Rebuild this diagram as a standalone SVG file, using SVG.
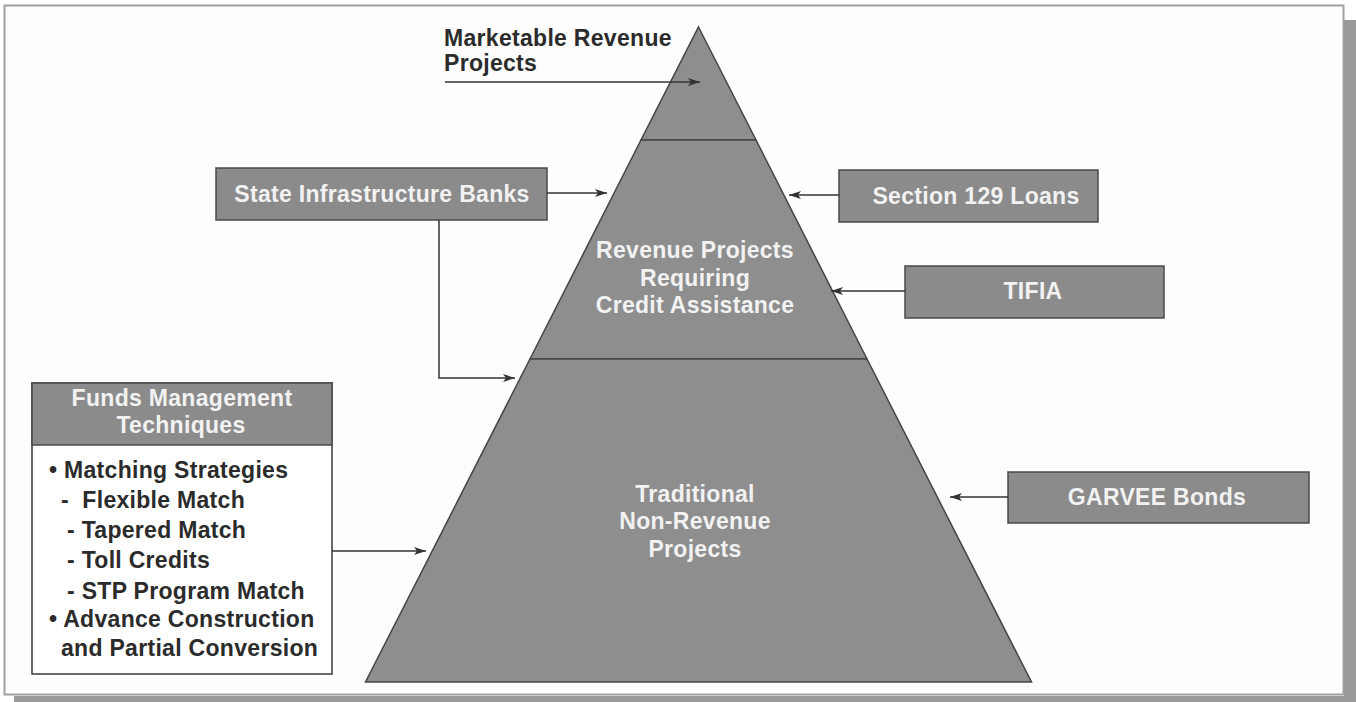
<svg xmlns="http://www.w3.org/2000/svg" width="1356" height="702" viewBox="0 0 1356 702">
<defs>
<style>
.lbl{font-family:"Liberation Sans",Arial,sans-serif;font-weight:bold;font-size:23px;letter-spacing:0.3px}
.lt{fill:#f2f2f2}
.dk{fill:#2b2b2b}
.box{fill:#8b8b8b;stroke:#4a4a4a;stroke-width:1.5}
.pyr{fill:#8e8e8e;stroke:#454545;stroke-width:1.5;stroke-linejoin:miter}
.con{fill:none;stroke:#333;stroke-width:1.5}
</style>
<marker id="ah" viewBox="0 0 12 8" refX="12" refY="4" markerWidth="12" markerHeight="8" markerUnits="userSpaceOnUse" orient="auto">
<path d="M0,0 L12,4 L0,8 L3,4 Z" fill="#333"/>
</marker>
</defs>
<rect x="0" y="0" width="1356" height="702" fill="#ffffff"/>
<g id="frame">
<rect x="1344" y="20" width="12" height="682" fill="#9a9a9a"/>
<rect x="14" y="696" width="1342" height="6" fill="#9a9a9a"/>
<rect x="4.5" y="5.5" width="1339" height="689" fill="#fdfdfd" stroke="#a0a0a0" stroke-width="2"/>
</g>
<g id="pyramid-top">
<polygon class="pyr" points="698.5,27 756,140 641,140"/>
</g>
<g id="pyramid-middle">
<polygon class="pyr" points="641,140 756,140 867,359 530,359"/>
<text class="lbl lt" text-anchor="middle" x="695" y="258">Revenue Projects</text>
<text class="lbl lt" text-anchor="middle" x="695" y="286">Requiring</text>
<text class="lbl lt" text-anchor="middle" x="695" y="313">Credit Assistance</text>
</g>
<g id="pyramid-bottom">
<polygon class="pyr" points="530,359 867,359 1031.5,682 365.5,682"/>
<text class="lbl lt" text-anchor="middle" x="695" y="502">Traditional</text>
<text class="lbl lt" text-anchor="middle" x="695" y="529">Non-Revenue</text>
<text class="lbl lt" text-anchor="middle" x="695" y="557">Projects</text>
</g>
<g id="marketable-label">
<text class="lbl dk" x="444" y="46">Marketable Revenue</text>
<text class="lbl dk" x="444" y="71">Projects</text>
</g>
<g id="sib">
<rect class="box" x="216" y="168" width="331" height="52"/>
<text class="lbl lt" text-anchor="middle" x="382" y="202">State Infrastructure Banks</text>
</g>
<g id="section129">
<rect class="box" x="839" y="170" width="259" height="52"/>
<text class="lbl lt" text-anchor="middle" x="976" y="204">Section 129 Loans</text>
</g>
<g id="tifia">
<rect class="box" x="905" y="266" width="259" height="52"/>
<text class="lbl lt" text-anchor="middle" x="1033" y="299">TIFIA</text>
</g>
<g id="garvee">
<rect class="box" x="1008" y="472" width="301" height="51"/>
<text class="lbl lt" text-anchor="middle" x="1157" y="505">GARVEE Bonds</text>
</g>
<g id="funds">
<rect x="32" y="383" width="300" height="291" fill="#ffffff" stroke="#3a3a3a" stroke-width="1.5"/>
<rect class="box" x="32" y="383" width="300" height="62"/>
<text class="lbl lt" text-anchor="middle" x="182" y="406">Funds Management</text>
<text class="lbl lt" text-anchor="middle" x="181" y="433">Techniques</text>
<text class="lbl dk" x="49" y="478">• Matching Strategies</text>
<text class="lbl dk" x="61" y="508" xml:space="preserve">-  Flexible Match</text>
<text class="lbl dk" x="67" y="538">- Tapered Match</text>
<text class="lbl dk" x="67" y="568">- Toll Credits</text>
<text class="lbl dk" x="67" y="599">- STP Program Match</text>
<text class="lbl dk" x="49" y="627">• Advance Construction</text>
<text class="lbl dk" x="61" y="656">and Partial Conversion</text>
</g>
<g id="connectors">
<line class="con" x1="445" y1="82" x2="700" y2="82" marker-end="url(#ah)"/>
<line class="con" x1="547" y1="193" x2="607" y2="193" marker-end="url(#ah)"/>
<polyline class="con" points="439,220 439,378 515,378" marker-end="url(#ah)"/>
<line class="con" x1="839" y1="195" x2="789" y2="195" marker-end="url(#ah)"/>
<line class="con" x1="905" y1="291" x2="831" y2="291" marker-end="url(#ah)"/>
<line class="con" x1="1008" y1="497" x2="950" y2="497" marker-end="url(#ah)"/>
<line class="con" x1="332" y1="551" x2="426" y2="551" marker-end="url(#ah)"/>
</g>
</svg>
